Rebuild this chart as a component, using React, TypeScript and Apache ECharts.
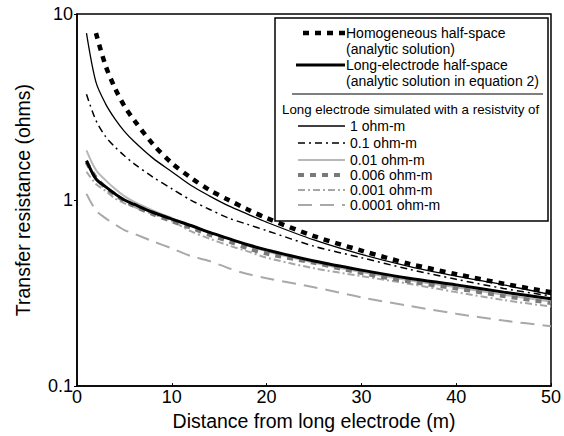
import React, { useEffect, useRef } from "react";
import * as echarts from "echarts";

// distances (m)
const distance = [1, 2, 3, 4, 5, 6, 8, 10, 12, 14, 16, 18, 20, 25, 30, 35, 40, 45, 50];

// transfer resistance (ohms)
const homogeneous = [null, 7.9, 5.3, 4.0, 3.2, 2.7, 2.0, 1.58, 1.32, 1.13, 1.0, 0.89, 0.8, 0.64, 0.535, 0.455, 0.4, 0.355, 0.32];
const longElectrode = [1.63, 1.3, 1.18, 1.08, 1.0, 0.95, 0.86, 0.79, 0.73, 0.67, 0.62, 0.575, 0.54, 0.47, 0.42, 0.38, 0.35, 0.32, 0.295];
const rho1 = [7.9, 4.3, 3.3, 2.73, 2.34, 2.07, 1.68, 1.42, 1.2, 1.05, 0.93, 0.84, 0.76, 0.61, 0.51, 0.44, 0.39, 0.35, 0.31];
const rho01 = [3.7, 2.68, 2.2, 1.93, 1.73, 1.57, 1.33, 1.15, 1.0, 0.89, 0.8, 0.74, 0.685, 0.565, 0.49, 0.425, 0.375, 0.335, 0.305];
const rho001 = [1.85, 1.45, 1.28, 1.15, 1.05, 0.98, 0.88, 0.8, 0.73, 0.67, 0.62, 0.57, 0.53, 0.46, 0.41, 0.37, 0.34, 0.31, 0.285];
const rho0006 = [1.6, 1.32, 1.17, 1.07, 0.99, 0.93, 0.84, 0.77, 0.71, 0.65, 0.6, 0.55, 0.515, 0.46, 0.405, 0.365, 0.335, 0.305, 0.28];
const rho0001 = [1.42, 1.22, 1.12, 1.02, 0.96, 0.92, 0.84, 0.77, 0.68, 0.62, 0.57, 0.53, 0.49, 0.43, 0.39, 0.355, 0.32, 0.29, 0.268];
const rho00001 = [1.08, 0.88, 0.8, 0.74, 0.69, 0.66, 0.6, 0.55, 0.5, 0.47, 0.43, 0.4, 0.38, 0.34, 0.3, 0.27, 0.245, 0.225, 0.21];

const xTicks = { min: 0, max: 50, interval: 10 };
const yRange = { min: 0.1, max: 10 };

const FONT = '"Liberation Sans", Arial, Helvetica, sans-serif';

type Sty = { color: string; width: number; dash: number[] | "solid" };

const seriesDefs: { name: string; data: (number | null)[]; sty: Sty }[] = [
  { name: "0.0001 ohm-m", data: rho00001, sty: { color: "#a9a9a9", width: 2, dash: [14, 8] } },
  { name: "0.001 ohm-m", data: rho0001, sty: { color: "#a6a6a6", width: 2, dash: [7, 3, 2, 3] } },
  { name: "0.01 ohm-m", data: rho001, sty: { color: "#b8b8b8", width: 2, dash: "solid" } },
  { name: "0.006 ohm-m", data: rho0006, sty: { color: "#7a7a7a", width: 4, dash: [6, 6] } },
  { name: "Long-electrode half-space", data: longElectrode, sty: { color: "#000", width: 3, dash: "solid" } },
  { name: "0.1 ohm-m", data: rho01, sty: { color: "#000", width: 1.5, dash: [7, 4, 2, 4] } },
  { name: "1 ohm-m", data: rho1, sty: { color: "#000", width: 1.3, dash: "solid" } },
  { name: "Homogeneous half-space", data: homogeneous, sty: { color: "#000", width: 4.5, dash: [6, 6] } },
];

function styleOf(name: string): Sty {
  return seriesDefs.find((s) => s.name === name)!.sty;
}

function legendLine(name: string, x1: number, x2: number, y: number) {
  const s = styleOf(name);
  return {
    type: "line",
    shape: { x1, y1: y, x2, y2: y },
    style: {
      stroke: s.color,
      lineWidth: s.width,
      lineDash: s.dash === "solid" ? null : s.dash,
    },
    z: 10,
  };
}

function legendText(text: string, x: number, y: number, size = 14) {
  return {
    type: "text",
    x,
    y,
    style: {
      text,
      fill: "#000",
      font: `${size}px ${FONT}`,
      textVerticalAlign: "middle",
      verticalAlign: "middle",
    },
    z: 10,
  };
}

export default function App() {
  const ref = useRef<HTMLDivElement>(null);
  useEffect(() => {
    if (!ref.current) return;
    const chart = echarts.init(ref.current, undefined, { renderer: "svg" });
    const rows: [string, string, number][] = [
      ["1 ohm-m", "1 ohm-m", 126],
      ["0.1 ohm-m", "0.1 ohm-m", 143],
      ["0.01 ohm-m", "0.01 ohm-m", 160],
      ["0.006 ohm-m", "0.006 ohm-m", 175],
      ["0.001 ohm-m", "0.001 ohm-m", 190],
      ["0.0001 ohm-m", "0.0001 ohm-m", 205],
    ];
    const graphic: any[] = [
      {
        type: "rect",
        shape: { x: 275, y: 18, width: 273, height: 203 },
        style: { fill: "#fff", stroke: "#000", lineWidth: 1.5 },
        z: 9,
      },
      legendLine("Homogeneous half-space", 303, 345, 33),
      legendText("Homogeneous half-space", 346, 33),
      legendText("(analytic solution)", 346, 49),
      legendLine("Long-electrode half-space", 296, 345, 65),
      legendText("Long-electrode half-space", 346, 65),
      legendText("(analytic solution in equation 2)", 346, 81),
      {
        type: "line",
        shape: { x1: 292, y1: 94, x2: 543, y2: 94 },
        style: { stroke: "#000", lineWidth: 1.2 },
        z: 10,
      },
      legendText("Long electrode simulated with a resistvity of", 282, 109, 13.3),
      ...rows.flatMap(([name, label, y]) => [legendLine(name, 298, 345, y), legendText(label, 350, y)]),
    ];

    chart.setOption({
      animation: false,
      backgroundColor: "#fff",
      textStyle: { fontFamily: FONT },
      grid: {
        left: 77,
        right: 12,
        top: 14,
        bottom: 47,
        show: true,
        borderColor: "#000",
        borderWidth: 1.5,
      },
      xAxis: {
        type: "value",
        min: xTicks.min,
        max: xTicks.max,
        interval: xTicks.interval,
        name: "Distance from long electrode (m)",
        nameLocation: "middle",
        nameGap: 23,
        nameTextStyle: { fontSize: 19.5, color: "#000", fontFamily: FONT },
        axisLine: { show: true, lineStyle: { color: "#000", width: 1.5 } },
        axisTick: { show: true, inside: true, length: 3, lineStyle: { color: "#000" } },
        axisLabel: { fontSize: 18, color: "#000", margin: 2, fontFamily: FONT },
        splitLine: { show: false },
      },
      yAxis: {
        type: "log",
        logBase: 10,
        min: yRange.min,
        max: yRange.max,
        name: "Transfer resistance (ohms)",
        nameLocation: "middle",
        nameGap: 44,
        nameTextStyle: { fontSize: 19.5, color: "#000", fontFamily: FONT },
        axisLine: { show: true, lineStyle: { color: "#000", width: 1.5 } },
        axisTick: { show: true, inside: false, length: 3, lineStyle: { color: "#000" } },
        axisLabel: {
          fontSize: 18,
          color: "#000",
          margin: 4,
          fontFamily: FONT,
          formatter: (v: number) => (v < 1 ? v.toFixed(1) : String(Math.round(v))),
        },
        splitLine: { show: false },
        minorTick: { show: false },
      },
      series: seriesDefs.map((s) => ({
        name: s.name,
        type: "line",
        data: distance.map((d, i) => [d, s.data[i]]),
        showSymbol: false,
        smooth: 0.3,
        connectNulls: false,
        lineStyle: { color: s.sty.color, width: s.sty.width, type: s.sty.dash },
        emphasis: { disabled: true },
      })),
      graphic,
    });
    return () => chart.dispose();
  }, []);
  return (
    <div
      ref={ref}
      style={{ position: "fixed", left: 0, top: 0, width: 564, height: 436, background: "#fff" }}
    />
  );
}
